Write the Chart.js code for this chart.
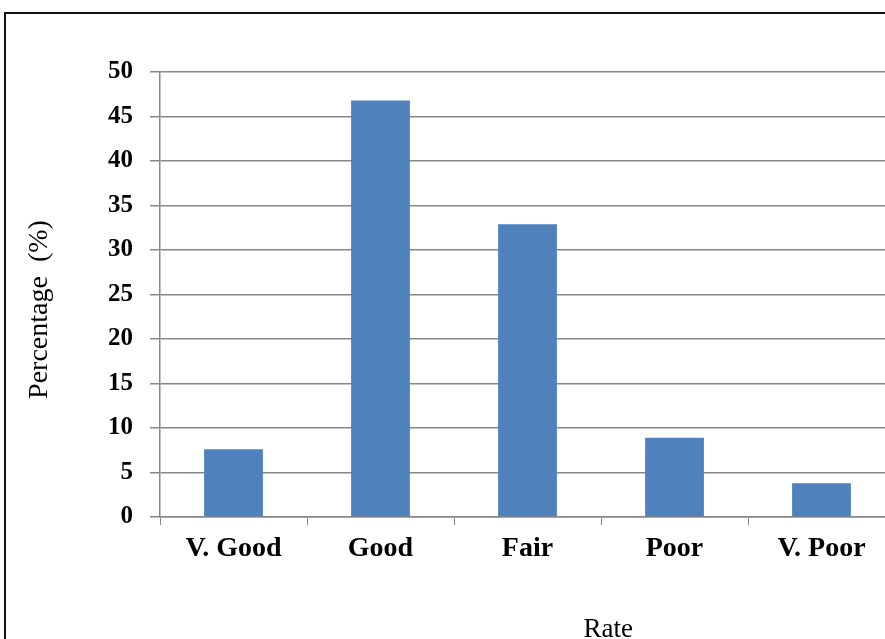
<!DOCTYPE html>
<html>
<head>
<meta charset="utf-8">
<title>Rate distribution</title>
<script src="https://cdn.jsdelivr.net/npm/chart.js@4.4.0/dist/chart.umd.min.js"></script>
<style>
  html, body { margin: 0; padding: 0; background: #fff; overflow: hidden; }
  body { width: 885px; height: 639px; position: relative; }
  #frame {
    position: absolute; left: 4px; top: 12px;
    width: 1000px; height: 1000px;
    border: 2px solid #111;
  }
  #rateChart { position: absolute; left: 0; top: 0; }
</style>
</head>
<body>
<div id="frame"></div>
<canvas id="rateChart" width="905" height="639"></canvas>
<script>
const rates = ["V. Good", "Good", "Fair", "Poor", "V. Poor"];
const percentages = [7.6, 46.8, 32.9, 8.9, 3.8];
const yTicks = [0, 5, 10, 15, 20, 25, 30, 35, 40, 45, 50];

const serif = "'Liberation Serif', 'Times New Roman', serif";

// axis titles sit off-centre, so they are drawn by hand
const axisTitles = {
  id: "axisTitles",
  afterDraw(chart) {
    const { ctx, chartArea } = chart;
    ctx.save();
    ctx.fillStyle = "#000";
    ctx.font = "27px " + serif;
    ctx.textAlign = "center";
    ctx.textBaseline = "alphabetic";
    const rx = chartArea.left + (chartArea.right - chartArea.left) * 0.61;
    ctx.fillText("Rate", rx, 637);

    ctx.translate(47, (chartArea.top + chartArea.bottom) / 2 + 15);
    ctx.rotate(-Math.PI / 2);
    ctx.font = "28px " + serif;
    ctx.fillText("Percentage  (%)", 0, 0);
    ctx.restore();
  }
};

new Chart(document.getElementById("rateChart"), {
  type: "bar",
  data: {
    labels: rates,
    datasets: [{
      label: "Percentage",
      data: percentages,
      backgroundColor: "#4f81bd",
      barPercentage: 0.4,
      categoryPercentage: 1.0
    }]
  },
  options: {
    responsive: false,
    animation: false,
    layout: { padding: { top: 72, right: 10, bottom: 0, left: 0 } },
    plugins: {
      legend: { display: false },
      tooltip: { enabled: false }
    },
    scales: {
      x: {
        afterFit: s => { s.height = 122; },
        grid: {
          drawOnChartArea: false,
          drawTicks: true,
          tickLength: 8,
          color: "#888"
        },
        border: { color: "#888", width: 1.5 },
        ticks: {
          color: "#000",
          padding: 7,
          font: { family: serif, size: 28, weight: "bold" }
        }
      },
      y: {
        min: 0,
        max: 50,
        afterFit: s => { s.width = 160; },
        afterBuildTicks: s => { s.ticks = yTicks.map(v => ({ value: v })); },
        grid: {
          color: "#888",
          lineWidth: 1.5,
          drawTicks: true,
          tickLength: 10
        },
        border: { color: "#888", width: 1.5 },
        ticks: {
          color: "#000",
          padding: 17,
          font: { family: serif, size: 25, weight: "bold" }
        }
      }
    }
  },
  plugins: [axisTitles]
});
</script>
</body>
</html>
